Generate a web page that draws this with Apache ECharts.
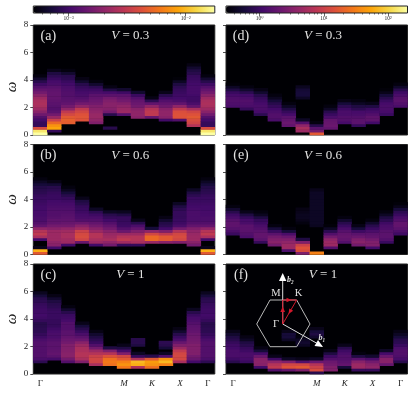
<!DOCTYPE html>
<html>
<head>
<meta charset="utf-8">
<style>
   html, body { margin: 0; padding: 0; background: #fff; }
   #chart { width: 415px; height: 395px; }
   #chart canvas { filter: blur(0.35px); }
</style>
<script src="https://cdn.jsdelivr.net/npm/echarts@6/dist/echarts.min.js"></script>
</head>
<body>
<div id="chart"></div>
<script>
// x categories, tick under every column, labels only at the high symmetry points
const kPath = ['Γ', '', '', '', '', '', 'M', '', 'K', '', 'X', '', 'Γ'];
const columnIds = [0, 1, 2, 3, 4, 5, 6, 7, 8, 9, 10, 11, 12];

// lower edge of each energy bin
const omegaBins = [0, 0.2, 0.4, 0.6, 0.8, 1, 1.2, 1.4, 1.6, 1.8, 2, 2.2, 2.4, 2.6, 2.8, 3, 3.2, 3.4, 3.6, 3.8,
   4, 4.2, 4.4, 4.6, 4.8, 5, 5.2, 5.4, 5.6, 5.8, 6, 6.2, 6.4, 6.6, 6.8, 7, 7.2, 7.4, 7.6, 7.8];
const omegaTicks = [0, 2, 4, 6, 8];

// colour position 0-100, one list per column, bottom bin first
const panelA = [
   [100, 94, 58, 17, 17, 20, 24, 31, 37, 42, 45, 46, 45, 42, 37, 32, 28, 24, 19, 14, 8, 2],
   [0, 17, 80, 76, 66, 54, 41, 32, 26, 24, 25, 26, 27, 28, 28, 28, 27, 25, 22, 21, 18, 15, 12, 4],
   [0, 0, 0, 0, 63, 64, 62, 57, 51, 39, 32, 28, 26, 25, 24, 24, 23, 22, 20, 18, 15, 14, 8, 2],
   [0, 0, 0, 0, 0, 60, 61, 60, 56, 51, 39, 32, 27, 24, 22, 21, 19, 17, 14, 8, 3],
   [0, 0, 0, 0, 35, 39, 41, 41, 39, 37, 35, 32, 30, 28, 26, 22, 19, 15, 8, 2],
   [0, 0, 14, 0, 0, 0, 0, 14, 32, 36, 37, 37, 35, 32, 26, 21, 12, 3],
   [0, 0, 0, 0, 0, 0, 0, 24, 42, 41, 39, 36, 32, 29, 26, 19, 8],
   [0, 0, 0, 0, 0, 0, 37, 39, 39, 37, 32, 30, 28, 24, 18, 8],
   [0, 0, 0, 0, 0, 0, 29, 51, 51, 48, 39, 28, 15, 3],
   [0, 0, 0, 0, 0, 20, 37, 39, 39, 37, 31, 28, 24, 19, 14, 4],
   [0, 0, 0, 0, 0, 24, 60, 60, 59, 51, 39, 28, 22, 20, 19, 18, 17, 15, 12, 6, 1],
   [0, 0, 0, 48, 55, 58, 62, 60, 56, 45, 28, 22, 19, 19, 20, 21, 21, 21, 20, 19, 18, 17, 14, 12, 8, 3],
   [100, 94, 58, 17, 17, 20, 24, 31, 37, 42, 45, 46, 45, 42, 37, 32, 28, 24, 19, 14, 8, 2]
];
const panelB = [
   [62, 82, 4, 0, 0, 20, 45, 51, 48, 39, 28, 24, 22, 22, 21, 21, 20, 20, 19, 18, 18, 17, 15, 14, 13, 10, 6, 2],
   [0, 0, 20, 37, 39, 42, 42, 42, 42, 37, 32, 28, 27, 25, 24, 24, 23, 22, 21, 20, 18, 18, 17, 15, 14, 9, 3],
   [0, 0, 0, 20, 42, 43, 45, 45, 43, 39, 32, 29, 27, 26, 25, 24, 23, 22, 21, 19, 17, 14, 10, 5, 2],
   [0, 0, 0, 0, 29, 55, 58, 57, 54, 43, 37, 30, 24, 22, 21, 19, 18, 17, 14, 12, 4],
   [0, 0, 0, 20, 42, 45, 48, 48, 42, 37, 32, 28, 24, 22, 19, 15, 6],
   [0, 0, 0, 32, 39, 45, 43, 41, 37, 32, 28, 24, 20, 17, 14, 6],
   [0, 0, 0, 17, 43, 51, 48, 42, 30, 24, 19, 18, 17, 17, 12, 5],
   [0, 0, 0, 17, 45, 48, 48, 42, 35, 28, 22, 14, 4],
   [0, 0, 0, 0, 41, 66, 66, 56, 39, 10],
   [0, 0, 0, 0, 37, 62, 62, 51, 35, 20, 15, 13, 8, 3],
   [0, 0, 0, 0, 35, 56, 58, 56, 48, 32, 22, 19, 18, 17, 17, 17, 15, 12, 6],
   [0, 0, 0, 32, 37, 42, 42, 41, 39, 35, 28, 24, 22, 22, 22, 22, 21, 20, 19, 18, 18, 15, 12, 6],
   [62, 82, 4, 0, 0, 20, 45, 51, 48, 39, 28, 24, 22, 22, 21, 21, 20, 20, 19, 18, 18, 17, 15, 14, 13, 10, 6, 2]
];
const panelC = [
   [0, 0, 0, 0, 15, 22, 24, 24, 24, 24, 24, 24, 22, 19, 17, 15, 15, 14, 14, 17, 19, 20, 19, 19, 18, 17, 15, 14, 10, 5],
   [0, 0, 0, 0, 0, 21, 26, 28, 27, 26, 26, 26, 24, 22, 22, 21, 19, 17, 17, 17, 18, 18, 18, 17, 15, 14, 12, 8, 3],
   [0, 0, 0, 0, 24, 32, 37, 37, 36, 35, 35, 32, 30, 28, 26, 26, 24, 24, 24, 21, 19, 18, 14, 8, 2],
   [0, 0, 0, 0, 35, 45, 48, 48, 46, 45, 42, 37, 30, 26, 22, 18, 14, 10, 4],
   [0, 0, 0, 45, 55, 56, 54, 48, 42, 32, 24, 18, 15, 12, 8, 3],
   [0, 0, 0, 68, 70, 68, 60, 48, 35, 12],
   [0, 0, 70, 76, 72, 62, 56, 35, 21, 12, 4],
   [0, 0, 48, 82, 84, 48, 17, 6, 0, 0, 12, 14, 14],
   [0, 0, 68, 76, 78, 62, 14],
   [0, 0, 0, 72, 84, 76, 24, 6, 0, 10, 14, 15],
   [0, 0, 0, 0, 45, 56, 57, 56, 51, 42, 35, 29, 22, 18, 14, 8, 3],
   [0, 0, 0, 0, 20, 29, 32, 35, 35, 35, 35, 33, 32, 31, 30, 28, 27, 26, 24, 22, 21, 18, 14, 5],
   [0, 0, 0, 0, 15, 22, 24, 24, 24, 24, 24, 24, 22, 19, 17, 15, 15, 14, 14, 17, 19, 20, 19, 19, 18, 17, 15, 14, 10, 5]
];
const panelD = [
   [0, 0, 0, 0, 0, 0, 0, 0, 0, 0, 22, 23, 24, 23, 21, 18, 12, 6, 1],
   [0, 0, 0, 0, 0, 0, 0, 0, 0, 17, 22, 23, 24, 22, 20, 15, 8, 2],
   [0, 0, 0, 0, 0, 0, 0, 15, 21, 22, 22, 21, 19, 17, 14, 8, 3],
   [0, 0, 0, 0, 0, 22, 24, 24, 22, 20, 17, 14, 10, 5, 2],
   [0, 0, 0, 28, 30, 28, 26, 21, 17, 12, 6, 2],
   [0, 42, 45, 39, 24, 6, 0, 0, 0, 0, 0, 0, 0, 6, 10, 10, 9, 5],
   [62, 32, 26, 14, 2],
   [0, 0, 28, 30, 29, 28, 22, 18, 14, 6, 2],
   [0, 0, 0, 0, 21, 24, 24, 22, 22, 19, 15, 10, 3],
   [0, 0, 0, 17, 26, 26, 24, 22, 21, 15, 12, 6, 2],
   [0, 0, 0, 0, 20, 27, 27, 24, 21, 18, 12, 4],
   [0, 0, 0, 0, 0, 0, 0, 18, 21, 22, 22, 21, 18, 14, 10, 4, 1],
   [0, 0, 0, 0, 0, 0, 0, 0, 0, 0, 22, 24, 26, 25, 22, 19, 14, 7, 2]
];
const panelE = [
   [0, 0, 0, 0, 0, 0, 0, 18, 22, 25, 27, 27, 25, 22, 19, 14, 8, 2],
   [0, 0, 0, 0, 0, 0, 22, 24, 26, 26, 26, 22, 21, 17, 12, 4],
   [0, 0, 0, 0, 17, 26, 28, 28, 26, 24, 22, 19, 17, 12, 5, 2],
   [0, 0, 0, 32, 37, 35, 32, 26, 18, 10, 2],
   [0, 22, 42, 42, 39, 35, 30, 22, 10, 2],
   [35, 58, 60, 54, 35, 12, 0, 0, 0, 0, 0, 2, 4, 5, 5, 4, 3],
   [72, 0, 0, 0, 0, 0, 0, 0, 0, 0, 5, 6, 6, 6, 6, 6, 6, 6, 6, 6, 6, 6, 6, 4],
   [0, 0, 24, 42, 42, 39, 32, 24, 15, 6, 1],
   [0, 0, 0, 0, 24, 28, 29, 28, 25, 22, 18, 14, 8, 2],
   [0, 0, 0, 32, 37, 35, 30, 26, 19, 10, 3],
   [0, 0, 20, 35, 35, 32, 28, 26, 22, 18, 14, 8, 2],
   [0, 0, 0, 0, 18, 24, 26, 26, 25, 23, 22, 19, 15, 12, 6, 2],
   [0, 0, 0, 0, 0, 0, 0, 19, 23, 26, 28, 28, 24, 22, 18, 15, 10, 4, 1]
];
const panelF = [
   [0, 0, 0, 0, 14, 19, 22, 22, 22, 20, 19, 17, 14, 12, 8, 4],
   [0, 0, 0, 0, 18, 21, 22, 22, 19, 17, 14, 12, 6, 3],
   [0, 0, 20, 37, 38, 37, 30, 21, 10, 3],
   [0, 24, 51, 48, 39, 19, 4],
   [0, 29, 60, 56, 35, 6, 0, 0, 0, 0, 0, 0, 6, 10, 10, 4],
   [0, 35, 62, 56, 24, 4, 0, 0, 0, 0, 6, 8, 6, 2],
   [14, 58, 54, 48, 30, 6, 0, 0, 0, 0, 0, 0, 0, 8, 12, 10, 4],
   [0, 35, 35, 32, 30, 24, 19, 12, 3],
   [0, 0, 10, 28, 26, 24, 24, 22, 19, 14, 4],
   [0, 17, 42, 42, 37, 26, 12, 2],
   [0, 17, 39, 37, 32, 22, 8],
   [0, 0, 0, 29, 37, 37, 30, 21, 6],
   [0, 0, 0, 0, 14, 21, 23, 24, 24, 22, 18, 15, 14, 10, 6, 3]
];

const panelData = [panelA, panelB, panelC, panelD, panelE, panelF];
const panelTags = ['(a)', '(b)', '(c)', '(d)', '(e)', '(f)'];
const panelV = ['0.3', '0.6', '1', '0.3', '0.6', '1'];

// colorbars
const barLeftRange = [5e-4, 1.77e-2];
const barLeftMajor = [1e-3, 1e-2];
const barLeftMinor = [6e-4, 7e-4, 8e-4, 9e-4, 2e-3, 3e-3, 4e-3, 5e-3, 6e-3, 7e-3, 8e-3, 9e-3];
const barRightRange = [0.3, 200];
const barRightMajor = [1, 10, 100];
const barRightMinor = [0.4, 0.5, 0.6, 0.7, 0.8, 0.9, 2, 3, 4, 5, 6, 7, 8, 9, 20, 30, 40, 50, 60, 70, 80, 90];
const superscripts = { '0.001': '10⁻³', '0.01': '10⁻²', '1': '10⁰', '10': '10¹', '100': '10²' };

const inferno = ['#000004', '#160b39', '#420a68', '#6a176e', '#932667', '#bc3754', '#dd513a', '#f37819', '#fca50a', '#f6d746', '#fcffa4'];

const serif = '"Liberation Serif", "DejaVu Serif", serif';
const inkColor = '#222';
const panelLefts = [33.3, 226];
const panelTops = [25, 144.5, 264];
const panelWidth = 181.5;
const panelHeight = 110;

let grids = [], xAxes = [], yAxes = [], series = [], graphics = [];

function labelText(x, y, text, opts) {
   return {
      type: 'text', x: x, y: y, silent: true, z: 50,
      style: Object.assign({
         text: text, fill: '#e2e2e2', fontFamily: serif, fontSize: 13,
         align: 'center', verticalAlign: 'middle'
      }, opts || {})
   };
}

panelData.forEach((columns, p) => {
   const col = p < 3 ? 0 : 1;
   const row = p % 3;
   const left = panelLefts[col];
   const top = panelTops[row];
   const yCat = yAxes.length;

   grids.push({
      left: left, top: top, width: panelWidth, height: panelHeight,
      show: true, backgroundColor: '#000004', borderColor: '#222', borderWidth: 1,
      outerBoundsMode: 'none'
   });
   xAxes.push({
      type: 'category', gridIndex: p, data: columnIds,
      axisLine: { show: false },
      axisTick: { alignWithLabel: true, interval: 0, length: 3, lineStyle: { color: inkColor, width: 0.8 } },
      axisLabel: {
         show: row === 2, interval: 0, margin: 5, fontFamily: serif, fontSize: 9, color: inkColor,
         fontStyle: 'italic',
         formatter: (v, i) => kPath[i] === 'Γ' ? '{g|Γ}' : kPath[i],
         rich: { g: { fontStyle: 'normal', fontFamily: serif, fontSize: 9, color: inkColor } }
      }
   });
   yAxes.push({ type: 'category', gridIndex: p, data: omegaBins, show: false, position: 'right' });
   yAxes.push({
      type: 'value', gridIndex: p, min: 0, max: 8, interval: 2, position: 'left',
      name: col === 0 ? 'ω' : '', nameLocation: 'middle', nameGap: 13,
      nameTextStyle: {
         fontFamily: serif, fontStyle: 'italic', fontSize: 15, color: inkColor,
         // the top panel's label sits a little below the panel centre
         padding: p === 0 ? [0, 14, 0, 0] : 0
      },
      splitLine: { show: false },
      axisLine: { show: false },
      axisTick: { show: true, length: 3, lineStyle: { color: inkColor, width: 0.8 } },
      axisLabel: { show: col === 0, margin: 5, fontFamily: serif, fontSize: 9, color: inkColor,
         customValues: omegaTicks }
   });

   const cells = [];
   columns.forEach((values, x) => {
      values.forEach((v, y) => {
         if (v > 0) cells.push([x, y, v]);
      });
   });
   series.push({
      type: 'heatmap', xAxisIndex: p, yAxisIndex: yCat, data: cells,
      progressive: 0, animation: false, silent: true,
      emphasis: { disabled: true }
   });

   graphics.push(labelText(left + 15, top + 11, panelTags[p], { fontSize: 14 }));
   graphics.push(labelText(left + 97, top + 11, '{v|V} = ' + panelV[p], {
      rich: { v: { fontStyle: 'italic', fontFamily: serif, fontSize: 13, fill: '#e2e2e2' } }
   }));
});

// colorbar axes sit in their own thin grids above the panels
function addBar(left, range, major, minor) {
   const g = grids.length;
   grids.push({
      left: left, top: 6, width: panelWidth, height: 7,
      show: true, backgroundColor: 'transparent', borderColor: '#222', borderWidth: 1,
      outerBoundsMode: 'none', z: 10
   });
   yAxes.push({ type: 'value', gridIndex: g, min: 0, max: 1, show: false });
   xAxes.push({
      type: 'log', gridIndex: g, min: range[0], max: range[1], logBase: 10,
      splitLine: { show: false }, axisLine: { show: false },
      axisTick: { customValues: major, length: 3, lineStyle: { color: inkColor, width: 0.7 } },
      axisLabel: {
         customValues: major, margin: 3, fontFamily: serif, fontSize: 5.5, color: inkColor,
         formatter: v => superscripts[String(v)] || String(v)
      }
   });
   xAxes.push({
      type: 'log', gridIndex: g, min: range[0], max: range[1], logBase: 10, position: 'bottom',
      splitLine: { show: false }, axisLine: { show: false }, axisLabel: { show: false },
      axisTick: { customValues: minor, length: 1.5, lineStyle: { color: inkColor, width: 0.6 } }
   });
}
addBar(panelLefts[0], barLeftRange, barLeftMajor, barLeftMinor);
addBar(panelLefts[1], barRightRange, barRightMajor, barRightMinor);

const visualMaps = [[0, 1, 2], [3, 4, 5]].map((seriesIds, i) => ({
   type: 'continuous', seriesIndex: seriesIds, min: 0, max: 100, calculable: false,
   orient: 'horizontal', left: panelLefts[i], top: 6, itemWidth: 7, itemHeight: panelWidth,
   padding: 0, text: null, showLabel: false, hoverLink: false, realtime: false,
   inRange: { color: inferno }
}));

// brillouin zone sketch in panel (f)
const hexagon = [[256.7, 324], [270, 300], [296.7, 300], [310, 324], [296.7, 346.7], [270, 346.7]];
const zoneCenter = [282.7, 324];
const zoneM = [282.7, 300];
const zoneK = [296.7, 300];
const b2Tip = [282.7, 275];
const b1Tip = [321.7, 346];

function seg(a, b, color, w) {
   return {
      type: 'line', silent: true, z: 51,
      shape: { x1: a[0], y1: a[1], x2: b[0], y2: b[1] },
      style: { stroke: color, lineWidth: w }
   };
}
function tri(points, color) {
   return { type: 'polygon', silent: true, z: 52, shape: { points: points }, style: { fill: color } };
}
graphics.push({
   type: 'polygon', silent: true, z: 51, shape: { points: hexagon },
   style: { fill: 'none', stroke: '#b8b8b8', lineWidth: 1 }
});
graphics.push(seg(zoneCenter, b2Tip, '#ddd', 1));
graphics.push(seg(zoneCenter, b1Tip, '#ddd', 1));
graphics.push(tri([[282.7, 273], [279, 281], [286.4, 281]], '#fff'));
graphics.push(tri([[323, 347], [314.5, 346], [318, 340]], '#fff'));
graphics.push(seg(zoneCenter, zoneM, '#d3182c', 1));
graphics.push(seg(zoneM, zoneK, '#d3182c', 1));
graphics.push(seg(zoneK, zoneCenter, '#d3182c', 1));
graphics.push(tri([[282.7, 306.5], [280.4, 312], [285, 312]], '#d3182c'));
graphics.push(tri([[291.5, 300], [286.5, 297.8], [286.5, 302.2]], '#d3182c'));
graphics.push(tri([[288.5, 314], [289.3, 308.5], [293.2, 310.8]], '#d3182c'));
graphics.push(labelText(276, 293, 'M', { fontSize: 10.5 }));
graphics.push(labelText(298.5, 293, 'K', { fontSize: 10.5 }));
graphics.push(labelText(276, 324, 'Γ', { fontSize: 10.5 }));
graphics.push(labelText(290.5, 280, 'b₂', { fontSize: 8, fontStyle: 'italic', fontWeight: 'bold' }));
graphics.push(labelText(322, 338, 'b₁', { fontSize: 8, fontStyle: 'italic', fontWeight: 'bold' }));

const chart = echarts.init(document.getElementById('chart'), null, { renderer: 'canvas' });
chart.setOption({
   animation: false,
   backgroundColor: '#fff',
   textStyle: { fontFamily: serif },
   grid: grids,
   xAxis: xAxes,
   yAxis: yAxes,
   visualMap: visualMaps,
   series: series,
   graphic: graphics
});
</script>
</body>
</html>
